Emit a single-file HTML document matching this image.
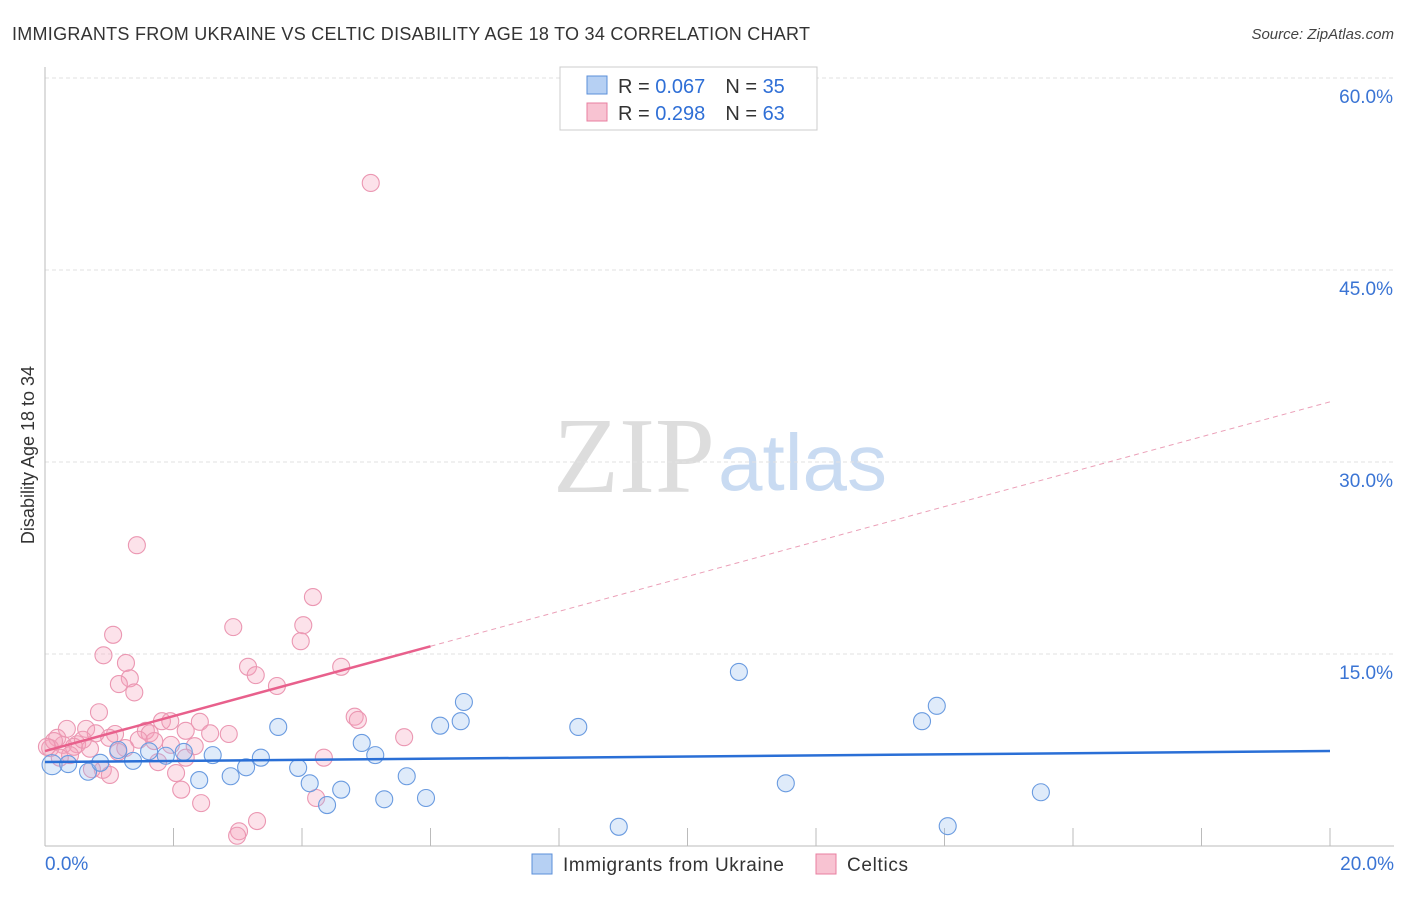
<!DOCTYPE html>
<html><head><meta charset="utf-8"><style>
body{margin:0;background:#fff;font-family:"Liberation Sans",sans-serif;}
svg text{font-family:"Liberation Sans",sans-serif;}
</style></head><body>
<svg id="c" width="1406" height="892" viewBox="0 0 1406 892">
<text x="12" y="40" font-size="18" fill="#333" textLength="798">IMMIGRANTS FROM UKRAINE VS CELTIC DISABILITY AGE 18 TO 34 CORRELATION CHART</text>
<text x="1394" y="39" font-size="15" fill="#444" font-style="italic" text-anchor="end">Source: ZipAtlas.com</text>
<text transform="translate(34,455) rotate(-90)" font-size="18" fill="#333" text-anchor="middle">Disability Age 18 to 34</text>
<g>
<text x="553" y="492" font-size="108" fill="#ddd" style="font-family:'Liberation Serif',serif">ZIP</text>
<text x="718" y="490" font-size="80" fill="#c9dbf2">atlas</text>
</g>
<g id="grid"></g><g id="axes"></g><g id="pts"></g><g id="lines"></g>
<g>
<rect x="560" y="67" width="257" height="63" fill="#fff" stroke="#ccc"/>
<rect x="587" y="76" width="20" height="18" fill="#b6d0f3" stroke="#5b8fd9"/>
<rect x="587" y="103" width="20" height="18" fill="#f8c3d2" stroke="#e87fa0"/>
<text x="618" y="93" font-size="20" fill="#333">R = <tspan fill="#2f6fd6">0.067</tspan><tspan dx="20">N = </tspan><tspan fill="#2f6fd6">35</tspan></text>
<text x="618" y="120" font-size="20" fill="#333">R = <tspan fill="#2f6fd6">0.298</tspan><tspan dx="20">N = </tspan><tspan fill="#2f6fd6">63</tspan></text>
</g>
<g>
<rect x="532" y="854" width="20" height="20" fill="#b6d0f3" stroke="#5b8fd9"/>
<text x="563" y="871" font-size="19" fill="#333" textLength="221">Immigrants from Ukraine</text>
<rect x="816" y="854" width="20" height="20" fill="#f8c3d2" stroke="#e87fa0"/>
<text x="847" y="871" font-size="19" fill="#333" textLength="61">Celtics</text>
</g>
</svg>
<script>
const blueX=[0.11,0.36,0.67,0.86,1.14,1.37,1.62,1.88,2.16,2.4,2.61,2.89,3.13,3.36,3.63,3.94,4.12,4.39,4.61,4.93,5.14,5.28,5.63,5.93,6.15,6.47,6.52,8.3,8.93,10.8,11.53,13.65,13.88,14.05,15.5];
const blueY=[6.35,6.4,5.8,6.5,7.5,6.65,7.4,7.05,7.35,5.15,7.1,5.45,6.15,6.9,9.3,6.1,4.9,3.2,4.4,8.05,7.1,3.65,5.45,3.75,9.4,9.75,11.25,9.3,1.5,13.6,4.9,9.75,10.95,1.55,4.2];
const pinkX=[5.07,1.43,4.17,2.93,4.02,1.06,3.98,0.91,1.26,3.16,4.61,3.28,1.32,1.15,1.39,3.61,0.84,4.82,4.87,0.34,0.64,1.82,1.95,1.57,1.63,2.41,2.19,2.57,0.79,2.86,5.59,0.19,0.5,1.46,1.7,2.33,0.7,1.96,0.28,0.08,1.14,2.19,1.76,4.34,0.9,1.01,2.04,0.73,2.12,2.43,4.22,3.3,3.02,2.99,0.45,0.14,1.09,1.0,0.39,0.03,0.23,0.59,1.25];
const pinkY=[51.8,23.5,19.45,17.1,17.25,16.5,16.0,14.9,14.3,14.0,14.0,13.35,13.1,12.65,12.0,12.5,10.45,10.1,9.85,9.15,9.15,9.75,9.75,9.0,8.8,9.7,9.0,8.8,8.8,8.75,8.5,8.45,7.95,8.3,8.2,7.8,7.6,7.9,7.9,7.65,7.35,6.9,6.55,6.9,5.95,5.55,5.7,6.0,4.4,3.35,3.75,1.95,1.15,0.8,7.75,8.2,8.75,8.45,7.1,7.75,6.9,8.3,7.65];
const yTicks=[15,30,45,60];
const xTickVals=[2,4,6,8,10,12,14,16,18,20];
const blueTrend=[6.56,7.42];
const pinkTrend=[7.42,34.7];
const pinkSolidEnd=6;
const NS='http://www.w3.org/2000/svg';
const sx=v=>45+v*64.25, sy=v=>846-v*12.8;
function mk(p,t,a){const e=document.createElementNS(NS,t);for(const k in a)e.setAttribute(k,a[k]);document.getElementById(p).appendChild(e);return e;}
yTicks.forEach(v=>{
 const l=mk('grid','line',{x1:45,x2:1394,y1:sy(v),y2:sy(v),stroke:'#e2e2e2','stroke-dasharray':'4,3'});
 
 
 const t=mk('grid','text',{x:1393,y:sy(v)+25,'font-size':19,fill:'#3a74d4','text-anchor':'end'});
 t.textContent=v.toFixed(1)+'%';
 
 
});
let a=mk('axes','line',{x1:45,x2:45,y1:67,y2:846,stroke:'#bbb'});


a=mk('axes','line',{x1:45,x2:1394,y1:846,y2:846,stroke:'#bbb'});


xTickVals.forEach(v=>{const t=mk('axes','line',{x1:sx(v),x2:sx(v),y1:828,y2:846,stroke:'#bbb'});
 
 });
let t=mk('axes','text',{x:45,y:870,'font-size':19,fill:'#3a74d4'});t.textContent='0.0%';


t=mk('axes','text',{x:1394,y:870,'font-size':19,fill:'#3a74d4','text-anchor':'end'});t.textContent='20.0%';


pinkX.forEach((x,i)=>{const c=mk('pts','circle',{cx:sx(x),cy:sy(pinkY[i]),r:8.5,fill:'rgba(244,160,186,0.3)',stroke:'#eb97b2','stroke-width':1.1});
 
 });
blueX.forEach((x,i)=>{const c=mk('pts','circle',{cx:sx(x),cy:sy(blueY[i]),r:i==0?10:8.5,fill:'rgba(150,190,240,0.3)',stroke:'#6a9be0','stroke-width':1.1});
 
 });
let l=mk('lines','line',{x1:sx(0),y1:sy(blueTrend[0]),x2:sx(20),y2:sy(blueTrend[1]),stroke:'#2a6fd6','stroke-width':2.5});


const pe=pinkTrend[0]+(pinkTrend[1]-pinkTrend[0])*pinkSolidEnd/20;
l=mk('lines','line',{x1:sx(0),y1:sy(pinkTrend[0]),x2:sx(pinkSolidEnd),y2:sy(pe),stroke:'#e8608c','stroke-width':2.5});


l=mk('lines','line',{x1:sx(pinkSolidEnd),y1:sy(pe),x2:sx(20),y2:sy(pinkTrend[1]),stroke:'#eba0b8','stroke-width':1,'stroke-dasharray':'5,4'});


</script>
</body></html>
